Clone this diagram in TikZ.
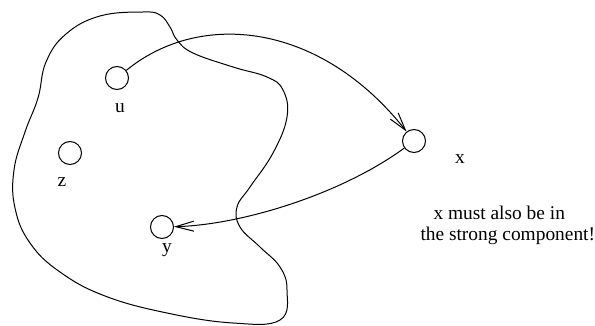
\documentclass[tikz,border=0pt]{standalone}
\usepackage{fontspec}
\setmainfont{Liberation Serif}
\usetikzlibrary{arrows.meta}

\begin{document}
\begin{tikzpicture}[x=0.5pt, y=-0.5pt, line width=0.5pt,
      font=\fontsize{9.7}{11.6}\selectfont,
      vert/.style={draw, circle, minimum size=11.5pt, inner sep=0pt},
      lab/.style={anchor=base, inner sep=0pt},
      note/.style={anchor=base west, inner sep=0pt},
      arr/.style={-{Straight Barb[length=9pt, width=5pt]}}]
    \useasboundingbox (0,0) rectangle (595,326);
    \draw plot[smooth cycle, tension=0.7] coordinates {
      (143,12) (100,16) (66,34) (46,62) (38,98) (25,132) (14,170) (15,208)
      (30,243) (60,272) (105,296) (167,313) (233,323) (280,320) (287,290)
      (280,267) (260,247) (240,227) (237,207) (250,187) (273,153) (287,117)
      (283,90) (267,77) (233,67) (193,53) (177,40) (170,27) (160,15)};
    \node[vert] (u) at (117,78) {};
    \node[vert] (z) at (70,153) {};
    \node[vert] (y) at (162,227) {};
    \node[vert] (x) at (414,141) {};
    \node[lab] (ulab) at (120,113) {u};
    \node[lab] (zlab) at (62,187) {z};
    \node[lab] (ylab) at (167,252) {y};
    \node[lab] (xlab) at (460,163) {x};
    \node[note] (note1) at (433,220) {x must also be in};
    \node[note] (note2) at (420,241) {the strong component!};
    \draw[arr] (u) .. controls (200,10) and (320,22) .. (x);
    \draw[arr] (x) .. controls (340,195) and (240,225) .. (y);
  \end{tikzpicture}
\end{document}
